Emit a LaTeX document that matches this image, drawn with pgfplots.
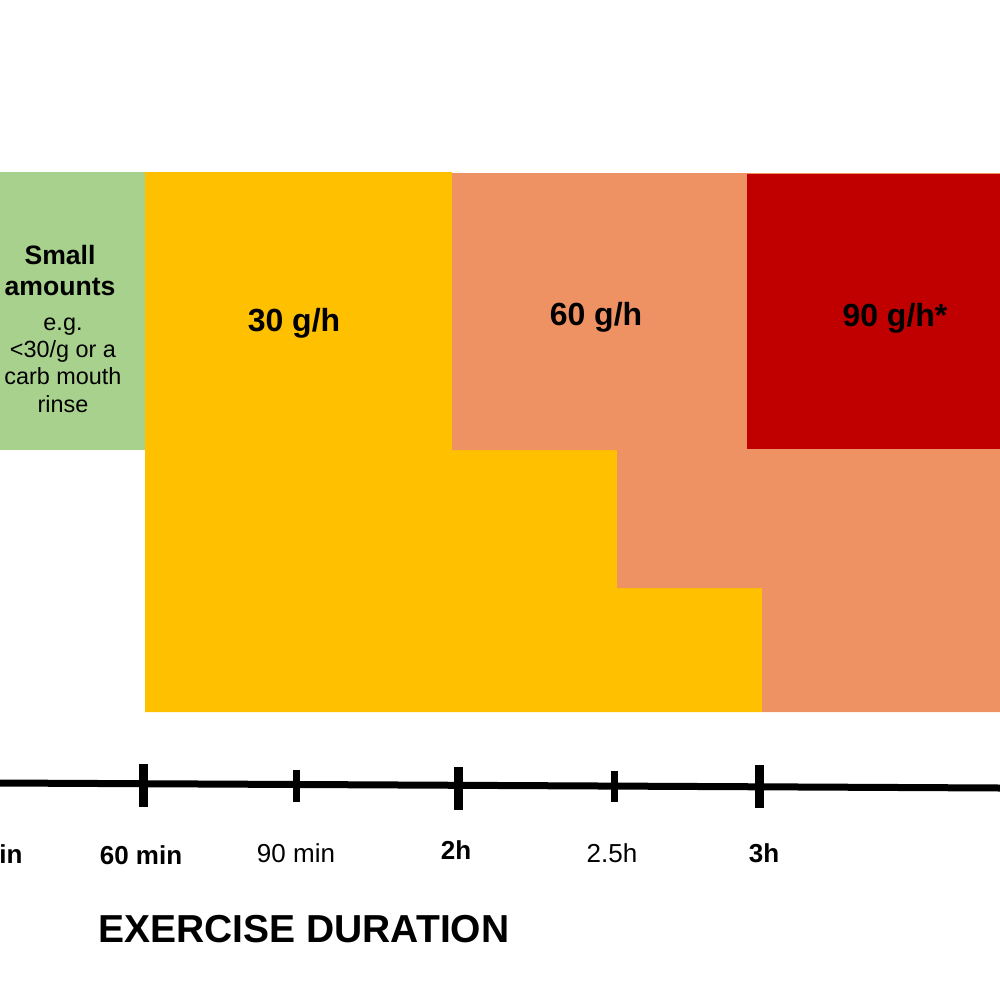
\documentclass[border=0pt]{standalone}
\usepackage{pgfplots}
\pgfplotsset{compat=1.18}
\usepackage{fontspec}
\setmainfont{Liberation Sans}
\definecolor{cgreen}{HTML}{A9D18E}
\definecolor{cyellow}{HTML}{FFC000}
\definecolor{corange}{HTML}{EE9163}
\definecolor{cred}{HTML}{C00000}
\begin{document}
\begin{tikzpicture}
\begin{axis}[
  scale only axis, width=500bp, height=500bp,
  xmin=0, xmax=1000, ymin=0, ymax=1000, y dir=reverse,
  hide axis, clip=true,
]
% background
\addplot[fill=white, draw=none] coordinates {(0,0)(1000,0)(1000,1000)(0,1000)} -- cycle;
% blocks
\addplot[fill=cgreen, draw=none] coordinates {(0,172)(145,172)(145,450)(0,450)} -- cycle;
\addplot[fill=cyellow, draw=none] coordinates {(145,172)(452,172)(452,450)(617,450)(617,588)(762,588)(762,712)(145,712)} -- cycle;
\addplot[fill=corange, draw=none] coordinates {(452,173)(1000,173)(1000,712)(762,712)(762,588)(617,588)(617,450)(452,450)} -- cycle;
\addplot[fill=cred, draw=none] coordinates {(747,174)(1000,174)(1000,449)(747,449)} -- cycle;
% time axis line
\addplot[black, line width=3.5bp] coordinates {(0,783)(1000,788)};
% major ticks
\addplot[black, line width=4.5bp] coordinates {(143,764)(143,807)};
\addplot[black, line width=4.5bp] coordinates {(458,767)(458,810)};
\addplot[black, line width=4.5bp] coordinates {(759,765)(759,808)};
% minor ticks
\addplot[black, line width=3.5bp] coordinates {(296,770)(296,802)};
\addplot[black, line width=3.5bp] coordinates {(614,771)(614,802)};
\end{axis}
\begin{axis}[
  scale only axis, width=500bp, height=500bp,
  xmin=0, xmax=1000, ymin=0, ymax=1000, y dir=reverse,
  hide axis, clip=false,
]
\node[overlay, anchor=base east, font=\fontsize{13bp}{15bp}\selectfont\bfseries, inner sep=0pt] at (axis cs:23,863) {30 min};
\node[anchor=base, font=\fontsize{13bp}{15bp}\selectfont\bfseries, inner sep=0pt] at (axis cs:141,864) {60 min};
\node[anchor=base, font=\fontsize{13bp}{15bp}\selectfont, inner sep=0pt] at (axis cs:296,862) {90 min};
\node[anchor=base, font=\fontsize{13bp}{15bp}\selectfont\bfseries, inner sep=0pt] at (axis cs:456,859) {2h};
\node[anchor=base, font=\fontsize{13bp}{15bp}\selectfont, inner sep=0pt] at (axis cs:612,862) {2.5h};
\node[anchor=base, font=\fontsize{13bp}{15bp}\selectfont\bfseries, inner sep=0pt] at (axis cs:764,862) {3h};
\node[anchor=base west, font=\fontsize{19.5bp}{22bp}\selectfont\bfseries, inner sep=0pt] at (axis cs:98,942) {EXERCISE DURATION};
\node[anchor=base, font=\fontsize{16bp}{18bp}\selectfont\bfseries, inner sep=0pt] at (axis cs:294,331) {30 g/h};
\node[anchor=base, font=\fontsize{16bp}{18bp}\selectfont\bfseries, inner sep=0pt] at (axis cs:596,325) {60 g/h};
\node[anchor=base, font=\fontsize{16bp}{18bp}\selectfont\bfseries, inner sep=0pt] at (axis cs:895,326) {90 g/h*};
\node[anchor=base, font=\fontsize{13.3bp}{15bp}\selectfont\bfseries, inner sep=0pt] at (axis cs:60,264) {Small};
\node[anchor=base, font=\fontsize{13.3bp}{15bp}\selectfont\bfseries, inner sep=0pt] at (axis cs:60,295) {amounts};
\node[anchor=base, font=\fontsize{11.7bp}{14bp}\selectfont, inner sep=0pt] at (axis cs:63,330) {e.g.};
\node[anchor=base, font=\fontsize{11.7bp}{14bp}\selectfont, inner sep=0pt] at (axis cs:63,357) {<30/g or a};
\node[anchor=base, font=\fontsize{11.7bp}{14bp}\selectfont, inner sep=0pt] at (axis cs:63,384) {carb mouth};
\node[anchor=base, font=\fontsize{11.7bp}{14bp}\selectfont, inner sep=0pt] at (axis cs:63,412) {rinse};
\end{axis}
\end{tikzpicture}
\end{document}
